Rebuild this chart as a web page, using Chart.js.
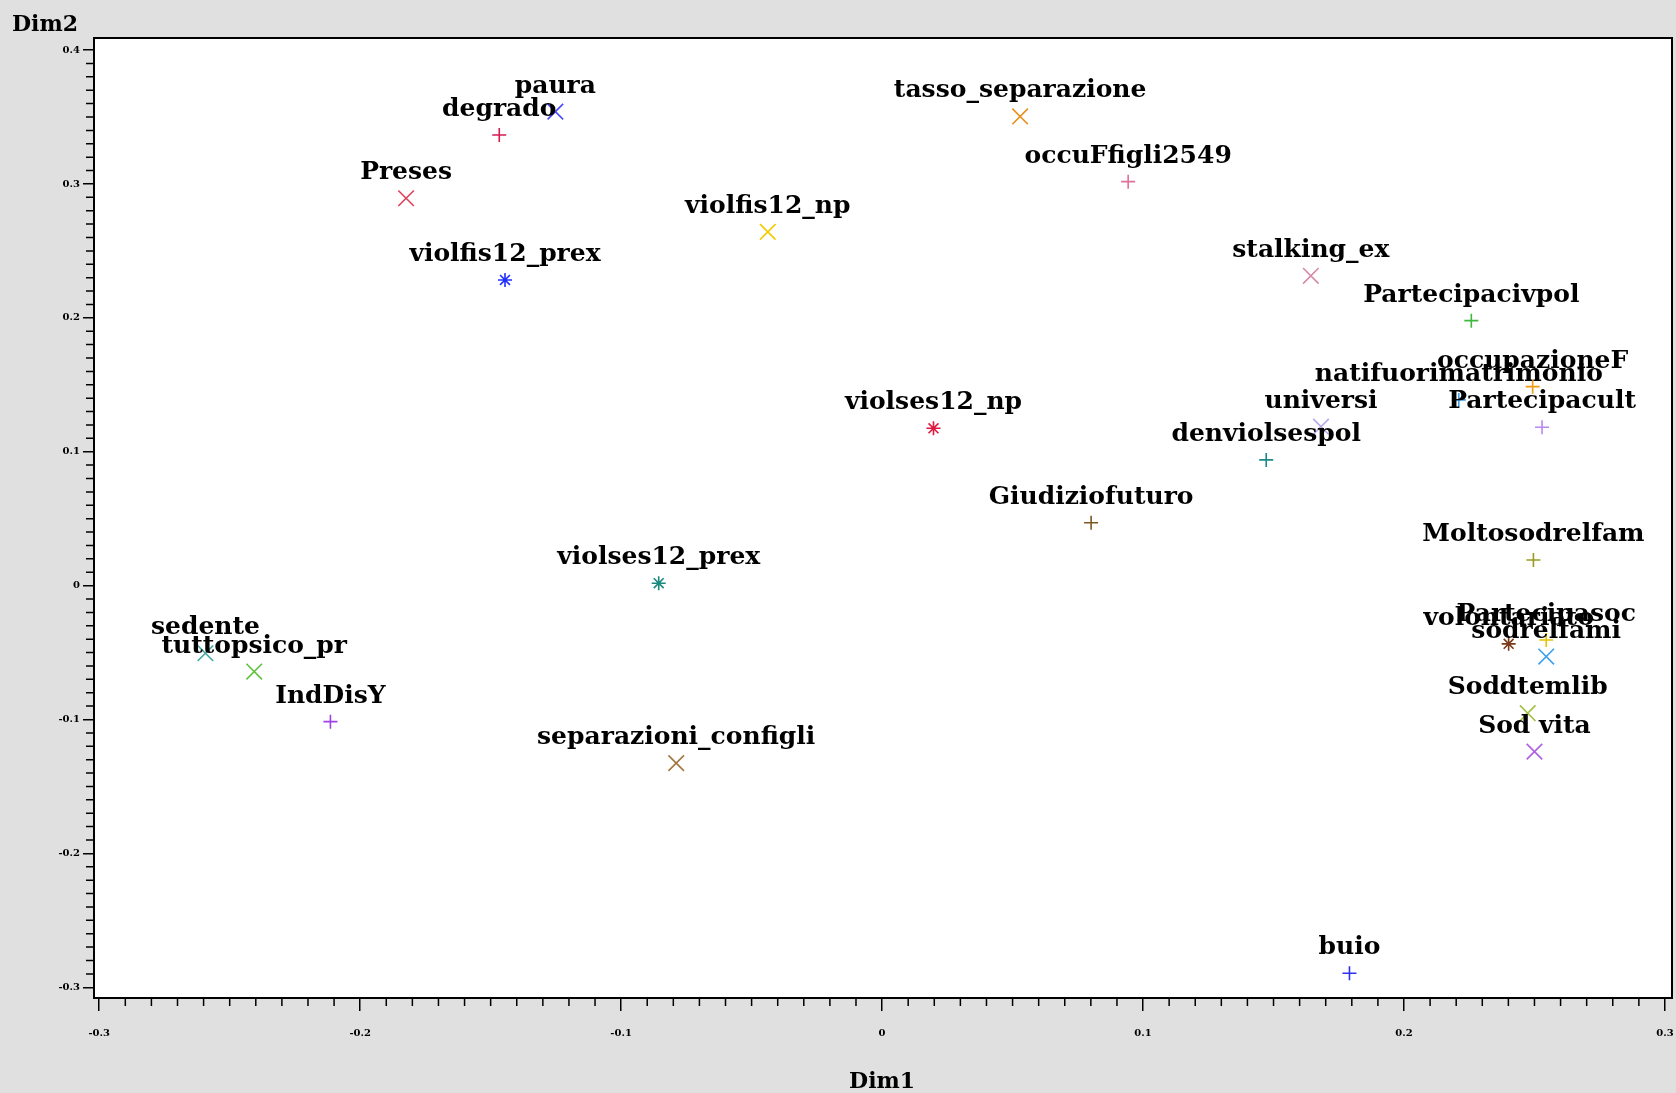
<!DOCTYPE html>
<html>
<head>
<meta charset="utf-8">
<script src="https://cdn.jsdelivr.net/npm/chart.js@4/dist/chart.umd.min.js"></script>
<style>
  html, body { margin: 0; padding: 0; background: #e0e0e0; }
  #wrap { width: 1676px; height: 1093px; }
</style>
</head>
<body>
<div id="wrap"><canvas id="c" width="1676" height="1093"></canvas></div>
<script>
// ---- data ----
const pointNames = [
  "paura", "degrado", "tasso_separazione", "Preses", "occuFfigli2549",
  "violfis12_np", "violfis12_prex", "stalking_ex", "Partecipacivpol", "occupazioneF",
  "natifuorimatrimonio", "Partecipacult", "universi", "violses12_np", "denviolsespol",
  "Giudiziofuturo", "Moltosodrelfam", "violses12_prex", "Partecipasoc", "volontariato",
  "sodrelfami", "Soddtemlib", "Sod vita", "sedente", "tuttopsico_pr",
  "IndDisY", "separazioni_configli", "buio"
];
const dim1 = [
  -0.1252, -0.1467, 0.0529, -0.1824, 0.0943,
  -0.0438, -0.1445, 0.1643, 0.2258, 0.2493,
  0.2210, 0.2529, 0.1682, 0.0197, 0.1472,
  0.0801, 0.2496, -0.0856, 0.2545, 0.2401,
  0.2545, 0.2474, 0.2500, -0.2593, -0.2406,
  -0.2114, -0.0789, 0.1791
];
const dim2 = [
  0.3540, 0.3366, 0.3504, 0.2893, 0.3017,
  0.2642, 0.2283, 0.2314, 0.1979, 0.1486,
  0.1387, 0.1183, 0.1187, 0.1175, 0.0939,
  0.0470, 0.0191, 0.0018, -0.0406, -0.0435,
  -0.0530, -0.0953, -0.1240, -0.0505, -0.0642,
  -0.1016, -0.1326, -0.2895
];
const xTickValues = [-0.3, -0.2, -0.1, 0, 0.1, 0.2, 0.3];
const yTickValues = [-0.3, -0.2, -0.1, 0, 0.1, 0.2, 0.3, 0.4];
const xAxisTitle = "Dim1";
const yAxisTitle = "Dim2";

// ---- styles ----
const markerStyles = [
  "crossRot", "cross", "crossRot", "crossRot", "cross",
  "crossRot", "star", "crossRot", "cross", "cross",
  "cross", "cross", "crossRot", "star", "cross",
  "cross", "cross", "star", "cross", "star",
  "crossRot", "crossRot", "crossRot", "crossRot", "crossRot",
  "cross", "crossRot", "cross"
];
const markerColors = [
  "#4a4aff", "#d81b50", "#e8901c", "#e0405a", "#e0709a",
  "#f0cc00", "#2030ff", "#d888a8", "#40b840", "#f09a10",
  "#3aa0f0", "#b888f0", "#b8a8f0", "#e01840", "#1a8a8a",
  "#7a5a20", "#9a9a20", "#1a8a80", "#e8c400", "#7a3a1a",
  "#3aa0f0", "#a0c040", "#b060e0", "#40a8a0", "#60c040",
  "#a040e8", "#a07840", "#3030f0"
];
const radiusFor = { cross: 7, crossRot: 11, star: 7 };
const LABEL_FONT = "bold 25px 'DejaVu Serif'";
const TICK_FONT_FAMILY = "DejaVu Serif";

const points = dim1.map((x, i) => ({ x: x, y: dim2[i] }));

const framePlugin = {
  id: 'frame',
  beforeDraw(chart) {
    const { ctx, chartArea: a } = chart;
    ctx.save();
    ctx.fillStyle = '#ffffff';
    ctx.fillRect(a.left, a.top, a.right - a.left, a.bottom - a.top);
    ctx.restore();
  },
  afterDraw(chart) {
    const { ctx, chartArea: a, scales } = chart;
    ctx.save();
    ctx.strokeStyle = '#000';
    ctx.lineWidth = 2;
    ctx.strokeRect(a.left, a.top, a.right - a.left, a.bottom - a.top);
    ctx.lineWidth = 1.5;
    ctx.beginPath();
    for (let k = -30; k <= 30; k++) {
      if (k % 10 === 0) continue;
      const px = scales.x.getPixelForValue(k / 100);
      ctx.moveTo(px, a.bottom);
      ctx.lineTo(px, a.bottom + 8);
    }
    for (let k = -30; k <= 40; k++) {
      if (k % 10 === 0) continue;
      const py = scales.y.getPixelForValue(k / 100);
      ctx.moveTo(a.left, py);
      ctx.lineTo(a.left - 8, py);
    }
    ctx.stroke();
    ctx.fillStyle = '#000';
    ctx.font = "bold 22px 'DejaVu Serif'";
    ctx.textBaseline = 'middle';
    ctx.textAlign = 'left';
    ctx.fillText(yAxisTitle, 12, 25);
    ctx.textAlign = 'center';
    ctx.fillText(xAxisTitle, scales.x.getPixelForValue(0), 1082);
    ctx.restore();
  },
  afterDatasetsDraw(chart) {
    const { ctx } = chart;
    const meta = chart.getDatasetMeta(0);
    ctx.save();
    ctx.fillStyle = '#000';
    ctx.font = LABEL_FONT;
    ctx.textAlign = 'center';
    ctx.textBaseline = 'alphabetic';
    meta.data.forEach((el, i) => {
      ctx.fillText(pointNames[i], el.x, el.y - 19);
    });
    ctx.restore();
  }
};

new Chart(document.getElementById('c'), {
  type: 'scatter',
  data: {
    datasets: [{
      data: points,
      pointStyle: markerStyles,
      borderColor: markerColors,
      backgroundColor: markerColors,
      pointRadius: markerStyles.map(s => radiusFor[s]),
      pointHoverRadius: markerStyles.map(s => radiusFor[s]),
      pointBorderWidth: 1.6
    }]
  },
  options: {
    responsive: false,
    animation: false,
    devicePixelRatio: 1,
    layout: { autoPadding: false, padding: { left: 0, top: 38, right: 4, bottom: 0 } },
    plugins: { legend: { display: false }, tooltip: { enabled: false } },
    scales: {
      x: {
        type: 'linear',
        min: -0.302,
        max: 0.3027,
        afterBuildTicks: s => { s.ticks = xTickValues.map(v => ({ value: v })); },
        afterFit: s => { s.height = 95; s.paddingLeft = 0; s.paddingRight = 0; },
        grid: { drawOnChartArea: false, drawTicks: true, tickLength: 13, color: '#000', lineWidth: 1.5 },
        border: { display: true, color: '#000', width: 2 },
        ticks: {
          color: '#000',
          padding: 16,
          maxRotation: 0,
          autoSkip: false,
          font: { family: TICK_FONT_FAMILY, size: 10, weight: 'bold' },
          callback: v => (v === 0 ? '0' : Number(v).toFixed(1))
        }
      },
      y: {
        type: 'linear',
        min: -0.308,
        max: 0.409,
        afterBuildTicks: s => { s.ticks = yTickValues.map(v => ({ value: v })); },
        afterFit: s => { s.width = 94; s.paddingTop = 0; s.paddingBottom = 0; },
        grid: { drawOnChartArea: false, drawTicks: true, tickLength: 11, color: '#000', lineWidth: 1.5 },
        border: { display: true, color: '#000', width: 2 },
        ticks: {
          color: '#000',
          padding: 3,
          autoSkip: false,
          font: { family: TICK_FONT_FAMILY, size: 10, weight: 'bold' },
          callback: v => (v === 0 ? '0' : Number(v).toFixed(1))
        }
      }
    }
  },
  plugins: [framePlugin]
});
</script>
</body>
</html>
